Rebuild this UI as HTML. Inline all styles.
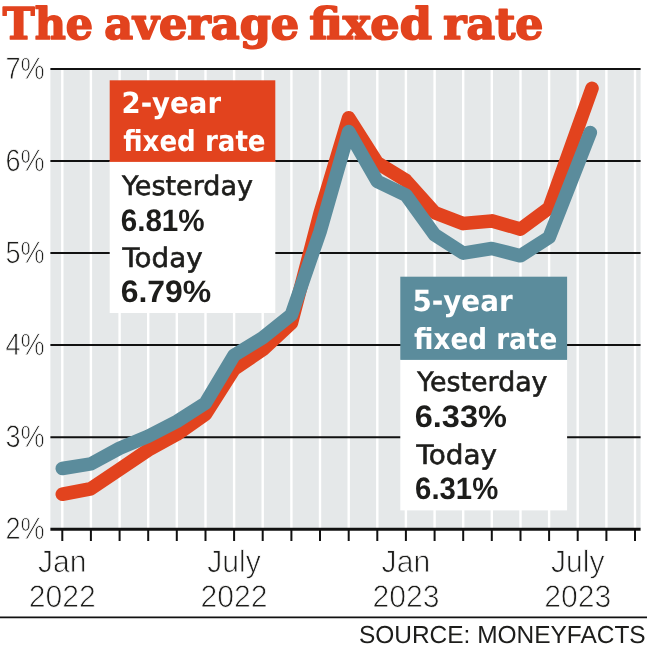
<!DOCTYPE html>
<html lang="en"><head><meta charset="utf-8"><title>The average fixed rate</title>
<style>html,body{margin:0;padding:0;background:#fff}svg{display:block;will-change:transform}text{font-family:"Liberation Sans","DejaVu Sans",sans-serif;fill:#1d1d1b;text-rendering:geometricPrecision}.t{font-family:"DejaVu Serif","Liberation Serif",serif;font-weight:bold;fill:#e2431e;stroke:#e2431e;stroke-width:1.7px;stroke-linejoin:round}.r,.w{font-family:"DejaVu Sans","Liberation Sans",sans-serif}.r{stroke:#1d1d1b;stroke-width:.6px}.b{font-weight:bold}.w{fill:#fff;font-weight:bold}.ax{stroke:#fff;stroke-width:.8px}</style></head><body>
<svg width="647" height="650" viewBox="0 0 647 650">
<rect width="647" height="650" fill="#fff"/>
<text class="t" x="2.8" y="39.0" font-size="43.6" textLength="90.2" lengthAdjust="spacingAndGlyphs">The</text>
<text class="t" x="104.2" y="39.0" font-size="43.6" textLength="195.0" lengthAdjust="spacingAndGlyphs">average</text>
<text class="t" x="309.2" y="39.0" font-size="43.6" textLength="122.8" lengthAdjust="spacingAndGlyphs">fixed</text>
<text class="t" x="443.2" y="39.0" font-size="43.6" textLength="100.2" lengthAdjust="spacingAndGlyphs">rate</text>
<rect x="50.4" y="69.0" width="590.2" height="460.2" fill="#e5e8e9"/>
<path d="M62.3 69.0V529.2M90.9 69.0V529.2M119.6 69.0V529.2M148.2 69.0V529.2M176.8 69.0V529.2M205.5 69.0V529.2M234.1 69.0V529.2M262.7 69.0V529.2M291.4 69.0V529.2M320.0 69.0V529.2M348.7 69.0V529.2M377.3 69.0V529.2M405.9 69.0V529.2M434.6 69.0V529.2M463.2 69.0V529.2M491.8 69.0V529.2M520.5 69.0V529.2M549.1 69.0V529.2M577.7 69.0V529.2M606.4 69.0V529.2M635.0 69.0V529.2" stroke="#fff" stroke-width="2.4" fill="none"/>
<path d="M50.4 437.2H640.6M50.4 345.1H640.6M50.4 253.1H640.6M50.4 161.0H640.6" stroke="#111" stroke-width="2" fill="none"/>
<path d="M50.4 69.0H640.6" stroke="#111" stroke-width="2" fill="none"/>
<path d="M50.4 529.2H640.6" stroke="#111" stroke-width="3" fill="none"/>
<path d="M62.3 529.2V540.9M90.9 529.2V540.9M119.6 529.2V540.9M148.2 529.2V540.9M176.8 529.2V540.9M205.5 529.2V540.9M234.1 529.2V540.9M262.7 529.2V540.9M291.4 529.2V540.9M320.0 529.2V540.9M348.7 529.2V540.9M377.3 529.2V540.9M405.9 529.2V540.9M434.6 529.2V540.9M463.2 529.2V540.9M491.8 529.2V540.9M520.5 529.2V540.9M549.1 529.2V540.9M577.7 529.2V540.9M606.4 529.2V540.9M635.0 529.2V540.9" stroke="#111" stroke-width="2" fill="none"/>
<polyline points="62.3,494.2 90.9,488.7 119.6,469.4 148.2,450.0 176.8,434.4 205.5,414.2 234.1,369.1 262.7,349.7 291.4,323.0 320.0,213.5 348.7,117.8 377.3,162.9 405.9,180.4 434.6,212.6 463.2,223.6 491.8,220.9 520.5,229.1 549.1,208.0 592.0,88.3" fill="none" stroke="#e2431e" stroke-width="13.6" stroke-linecap="round" stroke-linejoin="round"/>
<polyline points="62.3,468.5 90.9,463.9 119.6,448.2 148.2,436.2 176.8,421.5 205.5,403.1 234.1,355.2 262.7,337.8 291.4,314.7 320.0,231.9 348.7,131.6 377.3,181.3 405.9,195.1 434.6,234.7 463.2,253.1 491.8,248.5 520.5,255.8 549.1,237.4 590.3,132.5" fill="none" stroke="#5b8c9c" stroke-width="13.6" stroke-linecap="round" stroke-linejoin="round"/>
<text class="ax" x="5.4" y="539.3" font-size="31" textLength="39.2" lengthAdjust="spacingAndGlyphs">2%</text>
<text class="ax" x="5.4" y="447.3" font-size="31" textLength="39.2" lengthAdjust="spacingAndGlyphs">3%</text>
<text class="ax" x="5.4" y="355.2" font-size="31" textLength="39.2" lengthAdjust="spacingAndGlyphs">4%</text>
<text class="ax" x="5.4" y="263.2" font-size="31" textLength="39.2" lengthAdjust="spacingAndGlyphs">5%</text>
<text class="ax" x="5.4" y="171.1" font-size="31" textLength="39.2" lengthAdjust="spacingAndGlyphs">6%</text>
<text class="ax" x="5.4" y="79.1" font-size="31" textLength="39.2" lengthAdjust="spacingAndGlyphs">7%</text>
<text class="ax" x="62.3" y="571.6" font-size="31" text-anchor="middle" textLength="48.6" lengthAdjust="spacingAndGlyphs">Jan</text>
<text class="ax" x="62.3" y="606.6" font-size="31" text-anchor="middle" textLength="67.0" lengthAdjust="spacingAndGlyphs">2022</text>
<text class="ax" x="234.1" y="571.6" font-size="31" text-anchor="middle" textLength="53.6" lengthAdjust="spacingAndGlyphs">July</text>
<text class="ax" x="234.1" y="606.6" font-size="31" text-anchor="middle" textLength="67.0" lengthAdjust="spacingAndGlyphs">2022</text>
<text class="ax" x="405.9" y="571.6" font-size="31" text-anchor="middle" textLength="48.6" lengthAdjust="spacingAndGlyphs">Jan</text>
<text class="ax" x="405.9" y="606.6" font-size="31" text-anchor="middle" textLength="67.0" lengthAdjust="spacingAndGlyphs">2023</text>
<text class="ax" x="577.7" y="571.6" font-size="31" text-anchor="middle" textLength="53.6" lengthAdjust="spacingAndGlyphs">July</text>
<text class="ax" x="577.7" y="606.6" font-size="31" text-anchor="middle" textLength="67.0" lengthAdjust="spacingAndGlyphs">2023</text>
<rect x="109.7" y="160.9" width="165.6" height="152.1" fill="#fff"/>
<rect x="109.7" y="80.3" width="165.6" height="81.6" fill="#e2431e"/>
<text class="w" x="121.5" y="112.5" font-size="29" textLength="99.5" lengthAdjust="spacingAndGlyphs">2-year</text>
<text class="w" x="123.2" y="151.2" font-size="29" textLength="142.4" lengthAdjust="spacingAndGlyphs">fixed rate</text>
<text class="r" x="121.9" y="195.1" font-size="26.8" textLength="131.0" lengthAdjust="spacingAndGlyphs">Yesterday</text>
<text class="b" x="120.7" y="231.0" font-size="31" textLength="84.0" lengthAdjust="spacingAndGlyphs">6.81%</text>
<text class="r" x="122.4" y="266.7" font-size="26.8" textLength="80.2" lengthAdjust="spacingAndGlyphs">Today</text>
<text class="b" x="120.7" y="301.8" font-size="31" textLength="90.6" lengthAdjust="spacingAndGlyphs">6.79%</text>
<rect x="400.3" y="358.9" width="166.8" height="151.5" fill="#fff"/>
<rect x="400.3" y="276.7" width="166.8" height="83.2" fill="#5b8c9c"/>
<text class="w" x="412.4" y="311.1" font-size="29" textLength="100.3" lengthAdjust="spacingAndGlyphs">5-year</text>
<text class="w" x="414.0" y="348.6" font-size="29" textLength="143.2" lengthAdjust="spacingAndGlyphs">fixed rate</text>
<text class="r" x="417.3" y="390.9" font-size="26.8" textLength="130.2" lengthAdjust="spacingAndGlyphs">Yesterday</text>
<text class="b" x="414.7" y="426.6" font-size="31" textLength="92.2" lengthAdjust="spacingAndGlyphs">6.33%</text>
<text class="r" x="416.5" y="463.5" font-size="26.8" textLength="80.6" lengthAdjust="spacingAndGlyphs">Today</text>
<text class="b" x="415.1" y="499.1" font-size="31" textLength="83.1" lengthAdjust="spacingAndGlyphs">6.31%</text>
<path d="M0 617.4H647" stroke="#111" stroke-width="1.6" fill="none"/>
<text x="358.9" y="643.2" font-size="24.6" textLength="286.8" lengthAdjust="spacingAndGlyphs">SOURCE: MONEYFACTS</text>
</svg></body></html>
